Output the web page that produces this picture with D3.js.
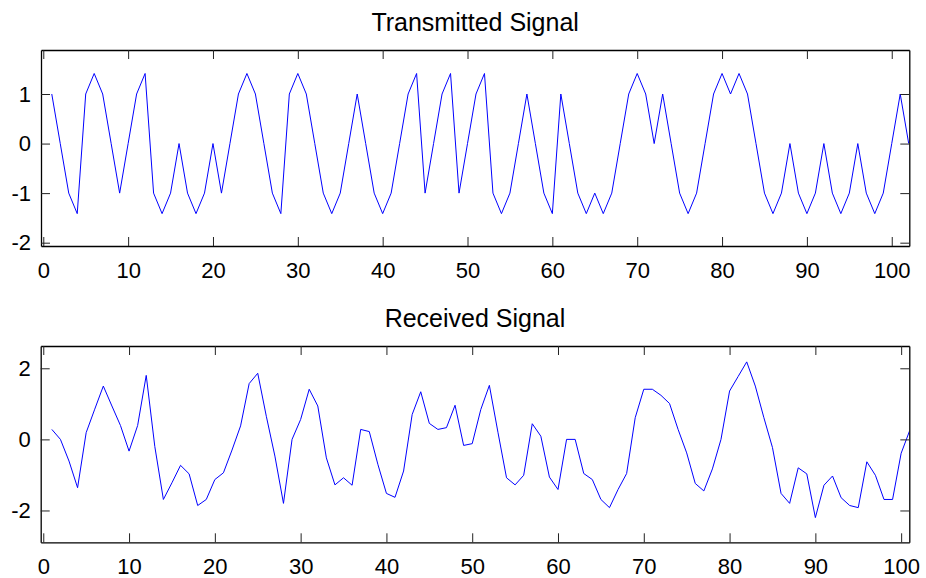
<!DOCTYPE html>
<html>
<head>
<meta charset="utf-8">
<script src="https://cdn.jsdelivr.net/npm/d3@7"></script>
<style>
  body { margin: 0; background: #fff; }
  svg text { font-family: "Liberation Sans", Arial, sans-serif; fill: #000; }
</style>
</head>
<body>
<svg id="viz" width="926" height="578"></svg>
<script>

var width = 926, height = 578

// sample index 1..102 (top) / 1..101 (bottom)
var transmitted = [1, 0, -1, -1.414, 1, 1.414, 1, 0, -1, 0,
  1, 1.414, -1, -1.414, -1, 0, -1, -1.414, -1, 0,
  -1, 0, 1, 1.414, 1, 0, -1, -1.414, 1, 1.414,
  1, 0, -1, -1.414, -1, 0, 1, 0, -1, -1.414,
  -1, 0, 1, 1.414, -1, 0, 1, 1.414, -1, 0,
  1, 1.414, -1, -1.414, -1, 0, 1, 0, -1, -1.414,
  1, 0, -1, -1.414, -1, -1.414, -1, 0, 1, 1.414,
  1, 0, 1, 0, -1, -1.414, -1, 0, 1, 1.414,
  1, 1.414, 1, 0, -1, -1.414, -1, 0, -1, -1.414,
  -1, 0, -1, -1.414, -1, 0, -1, -1.414, -1, 0,
  1, 0]

var received = [0.28, 0.0, -0.61, -1.36, 0.19, 0.85, 1.5, 0.94, 0.39, -0.33,
  0.39, 1.8, -0.2, -1.69, -1.22, -0.73, -0.97, -1.86, -1.69, -1.13,
  -0.94, -0.3, 0.38, 1.57, 1.86, 0.65, -0.47, -1.8, 0.0, 0.56,
  1.41, 0.94, -0.52, -1.28, -1.08, -1.29, 0.28, 0.22, -0.7, -1.52,
  -1.63, -0.89, 0.7, 1.34, 0.45, 0.28, 0.33, 0.96, -0.17, -0.12,
  0.84, 1.52, 0.2, -1.08, -1.28, -1.01, 0.44, 0.09, -1.06, -1.41,
  0.0, 0.0, -0.96, -1.13, -1.69, -1.92, -1.41, -0.96, 0.61, 1.41,
  1.41, 1.24, 1.01, 0.28, -0.38, -1.24, -1.45, -0.83, 0.0, 1.36,
  1.77, 2.18, 1.5, 0.61, -0.23, -1.52, -1.8, -0.8, -0.97, -2.2,
  -1.29, -1.03, -1.64, -1.86, -1.92, -0.63, -1.01, -1.69, -1.69, -0.39,
  0.25]

var xTicks = [0, 10, 20, 30, 40, 50, 60, 70, 80, 90, 100]
var yTicksTop = [-2, -1, 0, 1]
var yTicksBottom = [-2, 0, 2]

var panels = [
  { id: 'tx', title: 'Transmitted Signal', values: transmitted, yTicks: yTicksTop,
    box: { left: 41, top: 50, right: 909.3, bottom: 246 },
    xDomain: [-0.27, 102.07], yDomain: [-2.067, 1.888] },
  { id: 'rx', title: 'Received Signal', values: received, yTicks: yTicksBottom,
    box: { left: 40.7, top: 346, right: 909.3, bottom: 542.3 },
    xDomain: [-0.3, 100.95], yDomain: [-2.895, 2.627] }
]

var svg = d3.select('svg#viz')
var tickLen = 9
// matlab style labels: plain integers with a hyphen for minus
var fmt = function (d) { return String(d) }

panels.forEach(function (p) {
  var b = p.box
  var x = d3.scaleLinear().domain(p.xDomain).range([b.left, b.right])
  var y = d3.scaleLinear().domain(p.yDomain).range([b.bottom, b.top])

  var g = svg.append('g').attr('class', 'panel')

  svg.append('clipPath').attr('id', 'clip-' + p.id)
    .append('rect')
    .attr('x', b.left).attr('y', b.top)
    .attr('width', b.right - b.left).attr('height', b.bottom - b.top)

  // signal line
  var line = d3.line()
    .x(function (d, i) { return x(i + 1) })
    .y(function (d) { return y(d) })

  g.append('path')
    .datum(p.values)
    .attr('clip-path', 'url(#clip-' + p.id + ')')
    .attr('d', line)
    .attr('fill', 'none')
    .attr('stroke', '#0000ff')
    .attr('stroke-width', 1)

  // axes with inward ticks on all four sides
  var bottomAxis = d3.axisBottom(x).tickValues(xTicks).tickFormat(fmt).tickSizeInner(-tickLen).tickSizeOuter(0).tickPadding(16)
  var topAxis = d3.axisTop(x).tickValues(xTicks).tickSizeInner(-tickLen).tickSizeOuter(0).tickFormat('')
  var leftAxis = d3.axisLeft(y).tickValues(p.yTicks).tickFormat(fmt).tickSizeInner(-tickLen).tickSizeOuter(0).tickPadding(10)
  var rightAxis = d3.axisRight(y).tickValues(p.yTicks).tickSizeInner(-tickLen).tickSizeOuter(0).tickFormat('')

  var axes = [
    g.append('g').attr('transform', 'translate(0,' + b.bottom + ')').call(bottomAxis),
    g.append('g').attr('transform', 'translate(0,' + b.top + ')').call(topAxis),
    g.append('g').attr('transform', 'translate(' + b.left + ',0)').call(leftAxis),
    g.append('g').attr('transform', 'translate(' + b.right + ',0)').call(rightAxis)
  ]

  axes.forEach(function (a) {
    a.select('.domain').attr('stroke', '#000').attr('stroke-width', 1.3)
    a.selectAll('.tick line').attr('stroke', '#222').attr('stroke-width', 1)
    a.selectAll('.tick text')
      .style('font-size', '22px')
      .style('font-family', '"Liberation Sans", Arial, sans-serif')
      .attr('fill', '#000')
  })

  g.append('text')
    .attr('x', (b.left + b.right) / 2)
    .attr('y', b.top - 19)
    .attr('text-anchor', 'middle')
    .style('font-size', '25px')
    .text(p.title)
})

</script>
</body>
</html>
